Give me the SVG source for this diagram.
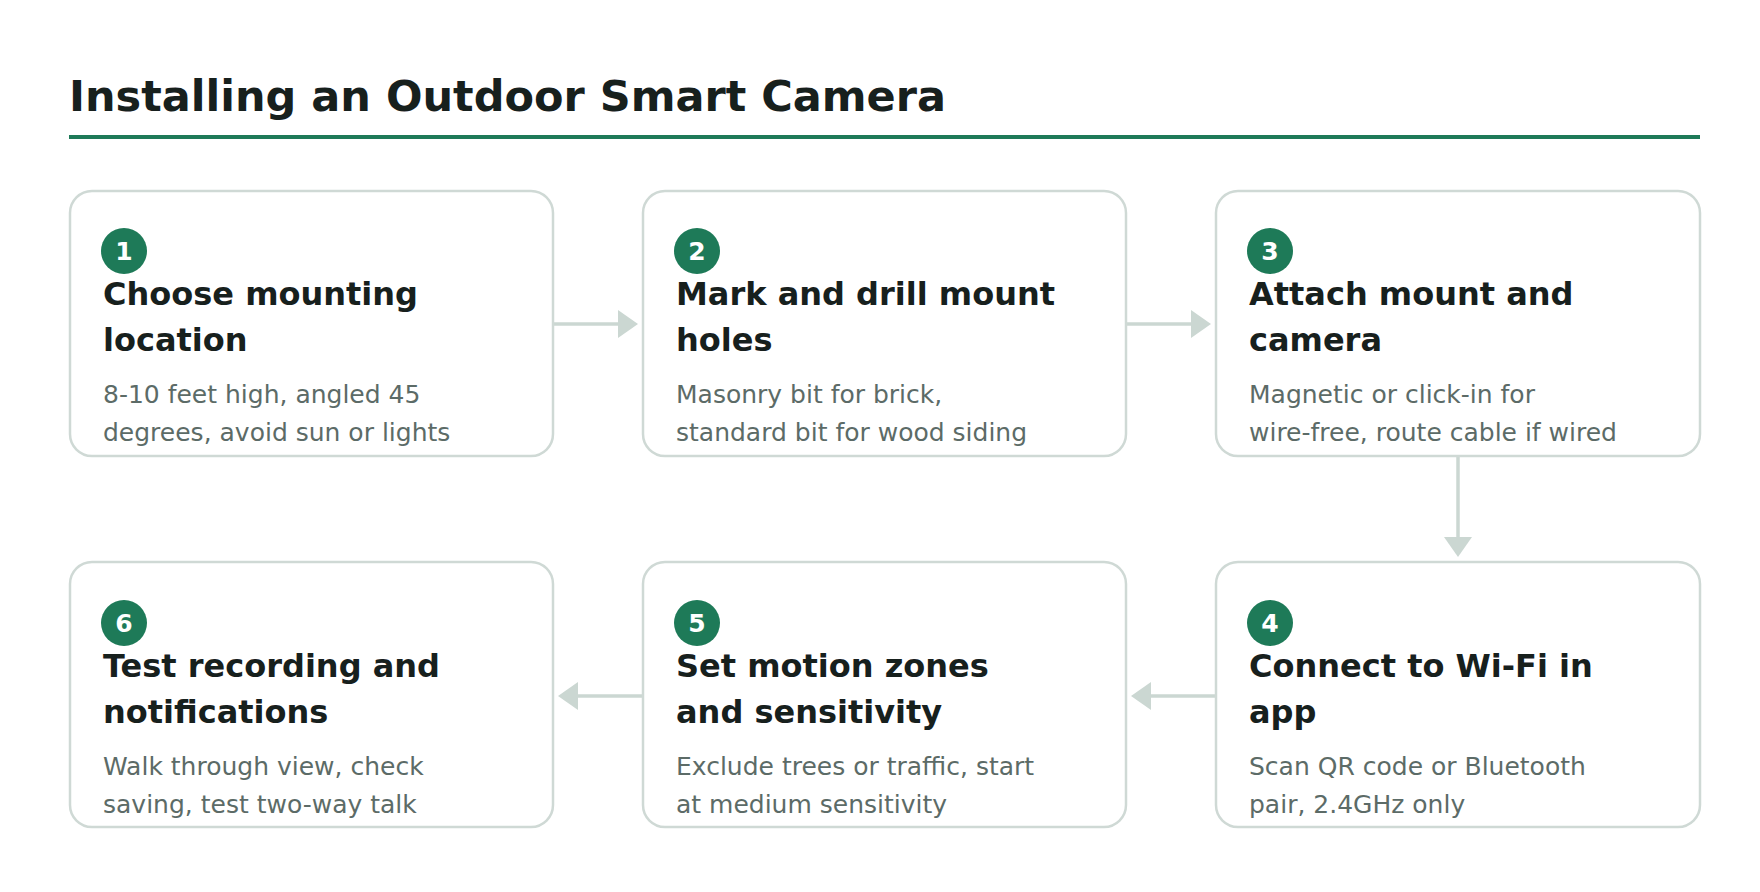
<svg xmlns="http://www.w3.org/2000/svg" width="1760" height="892" viewBox="0 0 1760 892">
<style>
.box{fill:#fff;stroke:#cfd9d5;stroke-width:2.5}
.c{fill:#1e7a58}
.n{font:bold 25px "DejaVu Sans",sans-serif;fill:#fff;text-anchor:middle}
.h{font:bold 32px "DejaVu Sans",sans-serif;fill:#17201d}
.d{font:25px "DejaVu Sans",sans-serif;fill:#5c6b67}
.l{stroke:#cbd7d2;stroke-width:3.5;fill:none}
.a{fill:#cbd7d2}
</style>
<rect width="1760" height="892" fill="#fff"/>
<text x="69" y="111" font-family="DejaVu Sans, sans-serif" font-weight="bold" font-size="43" fill="#17201d">Installing an Outdoor Smart Camera</text>
<rect x="69" y="135" width="1631" height="4" fill="#1e7a58"/>
<g id="connectors">
<path class="l" d="M553 324H620"/><polygon class="a" points="618,310 638,324 618,338"/>
<path class="l" d="M1126 324H1193"/><polygon class="a" points="1191,310 1211,324 1191,338"/>
<path class="l" d="M1458 456V539"/><polygon class="a" points="1444,537 1458,557 1472,537"/>
<path class="l" d="M1216 696H1149"/><polygon class="a" points="1151,682 1131,696 1151,710"/>
<path class="l" d="M643 696H576"/><polygon class="a" points="578,682 558,696 578,710"/>
</g>
<g id="n1"><rect class="box" x="70" y="191" width="483" height="265" rx="22"/><circle class="c" cx="124" cy="251" r="23"/><text class="n" x="124" y="260">1</text><text class="h" x="103" y="305">Choose mounting</text><text class="h" x="103" y="351">location</text><text class="d" x="103" y="403">8-10 feet high, angled 45</text><text class="d" x="103" y="441">degrees, avoid sun or lights</text></g>
<g id="n2"><rect class="box" x="643" y="191" width="483" height="265" rx="22"/><circle class="c" cx="697" cy="251" r="23"/><text class="n" x="697" y="260">2</text><text class="h" x="676" y="305">Mark and drill mount</text><text class="h" x="676" y="351">holes</text><text class="d" x="676" y="403">Masonry bit for brick,</text><text class="d" x="676" y="441">standard bit for wood siding</text></g>
<g id="n3"><rect class="box" x="1216" y="191" width="484" height="265" rx="22"/><circle class="c" cx="1270" cy="251" r="23"/><text class="n" x="1270" y="260">3</text><text class="h" x="1249" y="305">Attach mount and</text><text class="h" x="1249" y="351">camera</text><text class="d" x="1249" y="403">Magnetic or click-in for</text><text class="d" x="1249" y="441">wire-free, route cable if wired</text></g>
<g id="n4"><rect class="box" x="1216" y="562" width="484" height="265" rx="22"/><circle class="c" cx="1270" cy="623" r="23"/><text class="n" x="1270" y="632">4</text><text class="h" x="1249" y="677">Connect to Wi-Fi in</text><text class="h" x="1249" y="723">app</text><text class="d" x="1249" y="775">Scan QR code or Bluetooth</text><text class="d" x="1249" y="813">pair, 2.4GHz only</text></g>
<g id="n5"><rect class="box" x="643" y="562" width="483" height="265" rx="22"/><circle class="c" cx="697" cy="623" r="23"/><text class="n" x="697" y="632">5</text><text class="h" x="676" y="677">Set motion zones</text><text class="h" x="676" y="723">and sensitivity</text><text class="d" x="676" y="775">Exclude trees or traffic, start</text><text class="d" x="676" y="813">at medium sensitivity</text></g>
<g id="n6"><rect class="box" x="70" y="562" width="483" height="265" rx="22"/><circle class="c" cx="124" cy="623" r="23"/><text class="n" x="124" y="632">6</text><text class="h" x="103" y="677">Test recording and</text><text class="h" x="103" y="723">notifications</text><text class="d" x="103" y="775">Walk through view, check</text><text class="d" x="103" y="813">saving, test two-way talk</text></g>
</svg>
